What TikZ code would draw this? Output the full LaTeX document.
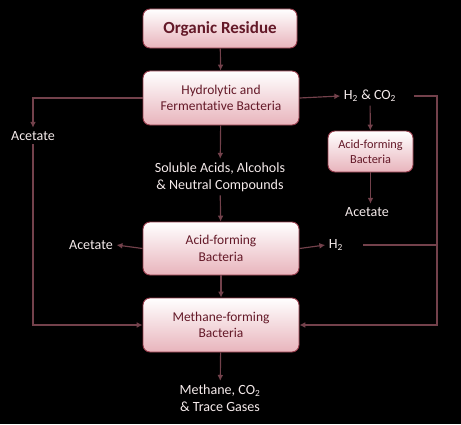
\documentclass[tikz,border=0pt]{standalone}
\usepackage{fontspec}
\setmainfont{Carlito}[Ligatures=NoCommon]
\usepackage{tikz}
\usepackage{xcolor}
\usetikzlibrary{arrows.meta}

\definecolor{boxline}{RGB}{150,60,75}
\definecolor{boxtext}{RGB}{100,25,40}
\definecolor{boxpink}{RGB}{232,180,188}
\definecolor{flow}{RGB}{115,65,75}
\definecolor{labeltext}{RGB}{245,235,235}

\tikzset{
  stagebox/.style={draw=boxline, line width=0.8pt, rounded corners=6pt,
    top color=white, bottom color=boxpink, text=boxtext, align=center,
    font=\fontsize{11.5}{14}\selectfont, inner sep=2pt},
  flowlabel/.style={text=labeltext, align=center, inner sep=3pt,
    font=\fontsize{12}{14.5}\selectfont},
  arr/.style={-{Latex[length=5pt,width=5pt]}, draw=flow, line width=1pt},
  flowline/.style={draw=flow, line width=1pt}
}

\begin{document}
\begin{tikzpicture}[x=0.03cm, y=-0.03cm]
  \fill[black] (0,0) rectangle (461,424);
  \useasboundingbox (0,0) rectangle (461,424);
  % main chain
  \node[stagebox, minimum width=4.62cm, minimum height=1.17cm,
    font=\fontsize{14.5}{16}\selectfont\bfseries] (organic) at (220,28.5) {Organic Residue};
  \node[stagebox, minimum width=4.68cm, minimum height=1.62cm] (hydro) at (221,98)
    {Hydrolytic and\\Fermentative Bacteria};
  \node[flowlabel] (soluble) at (220,177) {Soluble Acids, Alcohols\\\& Neutral Compounds};
  \node[stagebox, minimum width=4.68cm, minimum height=1.59cm] (acid) at (221,248.5)
    {Acid-forming\\Bacteria};
  \node[stagebox, minimum width=4.68cm, minimum height=1.62cm] (meth) at (221,325)
    {Methane-forming\\Bacteria};
  \node[flowlabel] (gases) at (220,398) {Methane, CO\textsubscript{2}\\\& Trace Gases};
  % side products
  \node[flowlabel] (acetL) at (33,136) {Acetate};
  \node[flowlabel] (h2co2) at (370,96) {H\textsubscript{2} \& CO\textsubscript{2}};
  \node[stagebox, minimum width=2.55cm, minimum height=1.23cm,
    font=\fontsize{10.5}{12.5}\selectfont] (small) at (370.5,151.5) {Acid-forming\\Bacteria};
  \node[flowlabel] (acetS) at (367,212) {Acetate};
  \node[flowlabel] (acetM) at (91,245) {Acetate};
  \node[flowlabel] (h2) at (336,245) {H\textsubscript{2}};
  \coordinate (rt) at (437,96);
  % connectors
  \draw[arr] (organic) -- (hydro);
  \draw[arr] (hydro.west) -| (acetL.north);
  \draw[arr] (acetL.south) |- (meth.west);
  \draw[arr] (hydro.east) -- (h2co2.west);
  \draw[arr] ([xshift=12pt]h2co2.east) -- (rt) |- (meth.east);
  \draw[arr] (h2co2) -- (small);
  \draw[arr] (small.south) -- (small.south |- acetS.north);
  \draw[arr] (hydro) -- (soluble);
  \draw[arr] (soluble) -- (acid);
  \draw[arr] (acid.west) -- (acetM.east);
  \draw[arr] (acid.east) -- (h2.west);
  \draw[flowline] ([xshift=14pt]h2.east) -- (h2.east -| rt);
  \draw[arr] (acid) -- (meth);
  \draw[arr] (meth) -- (gases);
\end{tikzpicture}
\end{document}
